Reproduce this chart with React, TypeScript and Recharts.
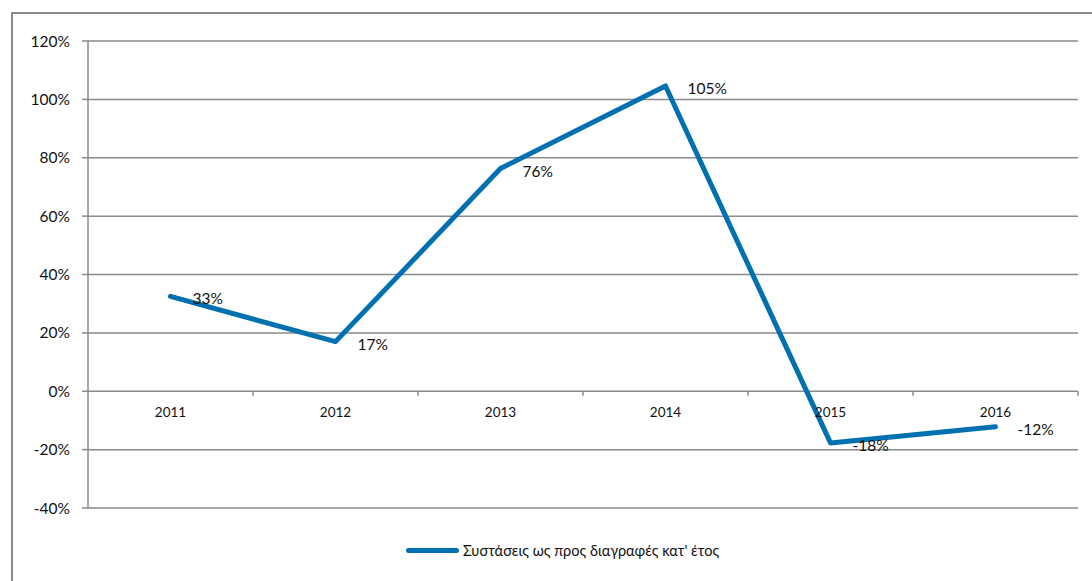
import { CartesianGrid, LabelList, Legend, Line, LineChart, ReferenceLine, XAxis, YAxis } from 'recharts';

const YEARS = ['2011', '2012', '2013', '2014', '2015', '2016'];
const RATIOS = [32.5, 17, 76.3, 104.6, -17.7, -12.2];
const Y_TICKS = [-40, -20, 0, 20, 40, 60, 80, 100, 120];
const SERIES_NAME = "Συστάσεις ως προς διαγραφές κατ' έτος";

const BLUE = '#0070B0';
const GRID = '#8a8a8a';
const FONT = 'Lato, "Open Sans", sans-serif';

const data = YEARS.map((year, i) => ({ year, pos: i + 0.5, ratio: RATIOS[i], zero: 0 }));
const boundaries = YEARS.map((_, i) => i + 1);

const ValueLabel = (props: any) => {
    const { x, y, value } = props;
    return (
        <text x={x + 22} y={y + 2} dominantBaseline="central" fontSize={15.5} fill="#111" fontFamily={FONT}>
            {Math.round(value)}%
        </text>
    );
};

const YearLabel = (props: any) => {
    const { x, y, value } = props;
    return (
        <text x={x} y={y + 21} textAnchor="middle" dominantBaseline="central" fontSize={13.5} fill="#111" fontFamily={FONT}>
            {value}
        </text>
    );
};

const LegendContent = (props: any) => {
    const items = (props.payload || []).filter((p: any) => p.dataKey === 'ratio');
    return (
        <div style={{ display: 'flex', justifyContent: 'center', alignItems: 'center', paddingLeft: 20, fontFamily: FONT, fontSize: 14.5, color: '#111' }}>
            {items.map((item: any) => (
                <div key={item.value} style={{ display: 'flex', alignItems: 'center' }}>
                    <span style={{ display: 'inline-block', width: 53, height: 5, borderRadius: 3, background: item.color, marginRight: 4 }} />
                    <span>{item.value}</span>
                </div>
            ))}
        </div>
    );
};

export default function App() {
    return (
        <>
            <style>{`body{margin:0;overflow:hidden}`}</style>
            <div
                style={{
                    position: 'absolute',
                    left: 11,
                    top: 12,
                    width: 1081,
                    height: 569,
                    boxSizing: 'border-box',
                    borderLeft: `2px solid ${GRID}`,
                    borderTop: `2px solid ${GRID}`,
                    background: '#fff',
                }}
            >
                <LineChart width={1079} height={567} data={data} margin={{ top: 27, right: 14, bottom: 73, left: 15 }}>
                    <CartesianGrid vertical={false} stroke={GRID} strokeWidth={1.5} />
                    <XAxis xAxisId={0} type="number" dataKey="pos" domain={[0, YEARS.length]} hide />
                    <YAxis
                        type="number"
                        domain={[-40, 120]}
                        ticks={Y_TICKS}
                        interval={0}
                        width={60}
                        tickFormatter={(v) => `${v}%`}
                        axisLine={{ stroke: GRID, strokeWidth: 1.5 }}
                        tickLine={{ stroke: GRID, strokeWidth: 1.5 }}
                        tickSize={6}
                        tickMargin={12}
                        tick={{ fontSize: 15.5, fill: '#111', fontFamily: FONT }}
                    />
                    {boundaries.map((b) => (
                        <ReferenceLine
                            key={b}
                            segment={[
                                { x: b, y: 0 },
                                { x: b, y: -1.5 },
                            ]}
                            stroke={GRID}
                            strokeWidth={1.5}
                        />
                    ))}
                    <Line
                        dataKey="zero"
                        stroke="none"
                        dot={false}
                        activeDot={false}
                        legendType="none"
                        isAnimationActive={false}
                    >
                        <LabelList dataKey="year" content={YearLabel} />
                    </Line>
                    <Line
                        dataKey="ratio"
                        name={SERIES_NAME}
                        stroke={BLUE}
                        strokeWidth={5}
                        strokeLinecap="round"
                        strokeLinejoin="round"
                        dot={false}
                        activeDot={false}
                        isAnimationActive={false}
                    >
                        <LabelList dataKey="ratio" content={ValueLabel} />
                    </Line>
                    <Legend verticalAlign="middle" wrapperStyle={{ top: 528, left: 0, width: 1079 }} content={LegendContent} />
                </LineChart>
            </div>
        </>
    );
}
